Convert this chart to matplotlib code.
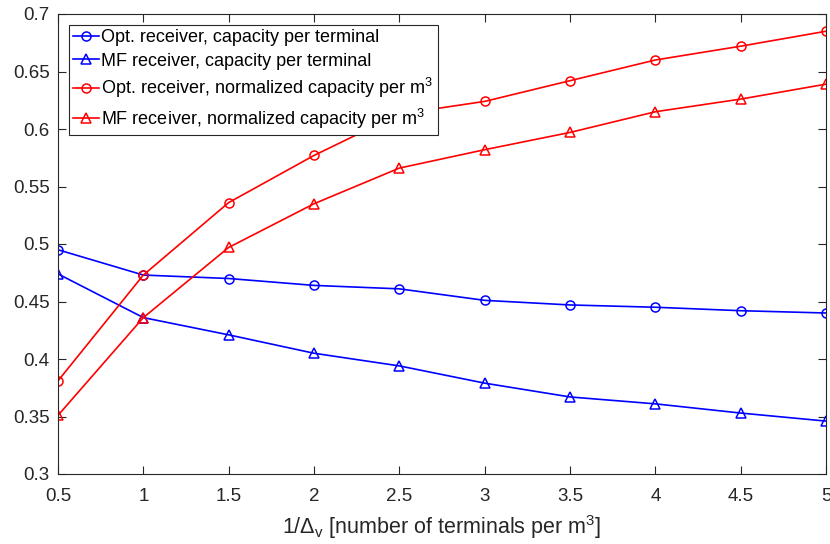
import matplotlib
matplotlib.use("Agg")
import matplotlib.pyplot as plt

plt.rcParams['font.family'] = ['Liberation Sans', 'DejaVu Sans']
plt.rcParams['mathtext.fontset'] = 'custom'
plt.rcParams['mathtext.rm'] = 'Liberation Sans'
plt.rcParams['mathtext.it'] = 'Liberation Sans'

x = [0.5, 1, 1.5, 2, 2.5, 3, 3.5, 4, 4.5, 5]
opt_term = [0.495, 0.473, 0.470, 0.464, 0.461, 0.451, 0.447, 0.445, 0.442, 0.440]
mf_term = [0.474, 0.436, 0.421, 0.405, 0.394, 0.379, 0.367, 0.361, 0.353, 0.346]
opt_norm = [0.381, 0.473, 0.536, 0.577, 0.613, 0.624, 0.642, 0.660, 0.672, 0.685]
mf_norm = [0.351, 0.436, 0.497, 0.535, 0.566, 0.582, 0.597, 0.615, 0.626, 0.639]

labels = ['Opt. receiver, capacity per terminal',
          'MF receiver, capacity per terminal',
          'Opt. receiver, normalized capacity per m$^3$',
          'MF receiver, normalized capacity per m$^3$']
xtick_labels = ['0.5', '1', '1.5', '2', '2.5', '3', '3.5', '4', '4.5', '5']
yticks = [0.3, 0.35, 0.4, 0.45, 0.5, 0.55, 0.6, 0.65, 0.7]
ytick_labels = ['0.3', '0.35', '0.4', '0.45', '0.5', '0.55', '0.6', '0.65', '0.7']

fig = plt.figure(figsize=(8.3, 5.44), dpi=100)
ax = fig.add_axes([58 / 830, 1 - 474 / 544, (826 - 58) / 830, (474 - 14) / 544])
blue = '#0000ff'
red = '#ff0000'
kw = dict(lw=1.2, ms=6.5, mfc='none', mew=1.1)
ax.plot(x, opt_term, '-o', color=blue, label=labels[0], **kw)
ax.plot(x, mf_term, '-^', color=blue, label=labels[1], **kw)
ax.plot(x, opt_norm, '-o', color=red, label=labels[2], **kw)
ax.plot(x, mf_norm, '-^', color=red, label=labels[3], **kw)

ax.set_xlim(0.5, 5)
ax.set_ylim(0.3, 0.7)
ax.set_xticks(x)
ax.set_xticklabels(xtick_labels)
ax.set_yticks(yticks)
ax.set_yticklabels(ytick_labels)
ax.tick_params(direction='in', top=True, right=True, labelsize=13.5, length=6,
               color='#262626', labelcolor='#262626')
ax.tick_params(axis='x', pad=10)
ax.tick_params(axis='y', pad=6)
for s in ax.spines.values():
    s.set_color('#262626')
    s.set_linewidth(0.8)
ax.set_xlabel(r'1/$\Delta_{\rm v}$ [number of terminals per m$^3$]', fontsize=15.5,
              labelpad=6, color='#262626')

leg = ax.legend(loc='upper left', fontsize=13, frameon=True, fancybox=False,
                framealpha=1, edgecolor='#262626', handlelength=1.4,
                handletextpad=0.15, borderaxespad=0.6, labelspacing=0.35,
                borderpad=0.25)
leg.get_frame().set_linewidth(0.8)

fig.savefig('out.png', dpi=100)
